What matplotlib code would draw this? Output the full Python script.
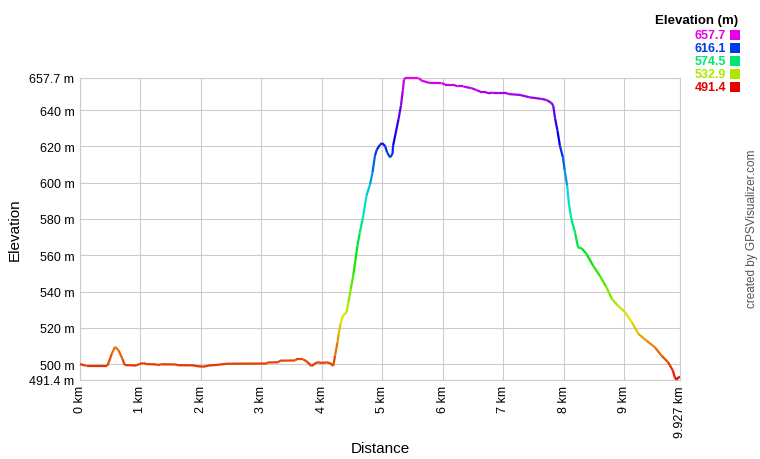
import numpy as np
import matplotlib
matplotlib.use('Agg')
import matplotlib.pyplot as plt
from matplotlib.collections import LineCollection
from matplotlib.colors import hsv_to_rgb
from matplotlib.patches import Rectangle

plt.rcParams['font.family'] = ['Liberation Sans', 'DejaVu Sans']

# %% profile
dist_km = [0.00, 0.11, 0.45, 0.47, 0.53, 0.58, 0.64, 0.70, 0.74, 0.93,
           0.98, 1.05, 1.10, 1.27, 1.30, 1.33, 1.57, 1.62, 1.87, 1.95,
           2.05, 2.10, 2.15, 2.25, 2.43, 3.09, 3.10, 3.28, 3.31, 3.56,
           3.58, 3.69, 3.75, 3.83, 3.92, 4.02, 4.08, 4.14, 4.19, 4.22,
           4.26, 4.28, 4.31, 4.35, 4.41, 4.44, 4.48, 4.52, 4.56, 4.59,
           4.63, 4.68, 4.74, 4.80, 4.84, 4.88, 4.91, 4.96, 5.00, 5.05,
           5.08, 5.13, 5.17, 5.18, 5.22, 5.27, 5.31, 5.34, 5.36, 5.38,
           5.60, 5.65, 5.79, 5.98, 6.04, 6.17, 6.25, 6.34, 6.48, 6.56,
           6.62, 6.70, 6.75, 6.83, 7.03, 7.09, 7.28, 7.44, 7.64, 7.72,
           7.80, 7.83, 7.86, 7.90, 7.94, 7.99, 8.02, 8.06, 8.09, 8.13,
           8.19, 8.24, 8.30, 8.38, 8.49, 8.60, 8.71, 8.80, 8.90, 9.02,
           9.13, 9.24, 9.37, 9.51, 9.62, 9.73, 9.81, 9.84, 9.87, 9.91,
           9.927]
elev_m = [500.0, 499.0, 499.0, 500.5, 506.0, 509.5, 507.5, 503.0, 499.5, 499.2,
          500.0, 500.6, 500.0, 499.8, 499.3, 499.9, 499.8, 499.4, 499.3, 498.8,
          498.6, 499.0, 499.3, 499.5, 500.2, 500.3, 500.9, 501.0, 501.9, 502.0,
          502.6, 502.6, 501.5, 498.9, 501.0, 500.6, 501.0, 500.5, 499.0, 504.6,
          512.0, 516.6, 522.0, 526.7, 528.5, 534.0, 541.4, 548.7, 557.9, 565.2,
          572.6, 580.5, 592.8, 599.2, 605.7, 614.8, 618.1, 620.7, 621.8, 620.0,
          616.7, 613.9, 615.8, 620.3, 626.8, 635.0, 642.4, 650.6, 656.7, 657.7,
          657.7, 656.2, 654.9, 654.9, 654.0, 654.0, 653.0, 653.0, 652.0, 651.0,
          650.1, 650.1, 649.2, 649.6, 649.6, 648.8, 648.3, 647.0, 646.1, 645.5,
          643.9, 642.4, 635.4, 628.6, 620.3, 613.9, 606.6, 598.3, 588.0, 580.0,
          572.6, 564.3, 563.8, 560.7, 554.2, 548.7, 542.3, 535.9, 532.2, 528.5,
          523.0, 516.6, 513.0, 509.3, 504.7, 501.0, 496.4, 492.7, 491.4, 493.0,
          493.0]

e_min, e_max = 491.4, 657.7
y_ticks = [491.4, 500, 520, 540, 560, 580, 600, 620, 640, 657.7]
y_labels = ['491.4 m', '500 m', '520 m', '540 m', '560 m', '580 m',
            '600 m', '620 m', '640 m', '657.7 m']
x_ticks = [0, 1, 2, 3, 4, 5, 6, 7, 8, 9, 9.927]
x_labels = ['0 km', '1 km', '2 km', '3 km', '4 km', '5 km', '6 km',
            '7 km', '8 km', '9 km', '9.927 km']
legend_vals = [657.7, 616.1, 574.5, 532.9, 491.4]


def elev_color(e):
    h = (e - e_min) / (e_max - e_min) * 300 / 360
    return hsv_to_rgb([min(max(h, 0), 300 / 360), 1.0, 0.9])


W, H = 760, 460
fig = plt.figure(figsize=(W / 100, H / 100), dpi=100)
ax = fig.add_axes([80 / W, 1 - 380.7 / H, 600 / W, 301.8 / H])

x = np.array(dist_km)
y = np.array(elev_m)
pts = np.column_stack([x, y]).reshape(-1, 1, 2)
segs = np.concatenate([pts[:-1], pts[1:]], axis=1)
cols = [elev_color(0.5 * (y[i] + y[i + 1])) for i in range(len(y) - 1)]
lc = LineCollection(segs, colors=cols, linewidths=1.6, capstyle='butt',
                    joinstyle='round', zorder=3, clip_on=False)
ax.add_collection(lc)

ax.set_xlim(0, 9.927)
ax.set_ylim(e_min, e_max)
ax.set_xticks(x_ticks)
ax.set_xticklabels(x_labels, rotation=90, fontsize=9)
ax.set_yticks(y_ticks)
ax.set_yticklabels(y_labels, fontsize=9)
ax.tick_params(length=0, pad=4)
ax.grid(True, color='#cccccc', linewidth=0.8)
ax.set_axisbelow(True)
for s in ax.spines.values():
    s.set_color('#cccccc')
    s.set_linewidth(0.8)

fig.text(15 / W, 1 - 230 / H, 'Elevation', rotation=90, ha='center',
         va='center', fontsize=11)
fig.text(380 / W, 1 - 449 / H, 'Distance', ha='center', va='center',
         fontsize=11)
fig.text(752 / W, 1 - 229 / H, 'created by GPSVisualizer.com', rotation=90,
         ha='center', va='center', fontsize=8.5, color='#555555')

# %% colour legend
fig.text(738 / W, 1 - 21 / H, 'Elevation (m)', ha='right', va='center',
         fontsize=9.5, fontweight='bold')
for i, v in enumerate(legend_vals):
    yc = 36 + i * 13
    c = elev_color(v)
    fig.text(726 / W, 1 - yc / H, f'{v:.1f}', ha='right', va='center',
             fontsize=9, fontweight='bold', color=c)
    fig.add_artist(Rectangle((730 / W, 1 - (yc + 5) / H), 10 / W, 10 / H,
                             transform=fig.transFigure, color=c, lw=0))

fig.savefig('out.png', dpi=100)
